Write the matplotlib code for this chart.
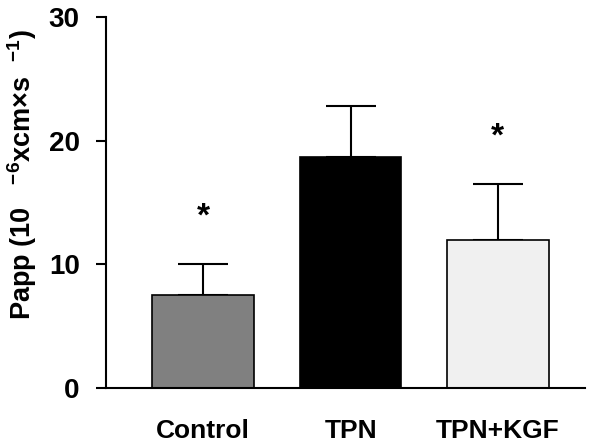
import matplotlib
matplotlib.use('Agg')
import matplotlib.pyplot as plt
import numpy as np

plt.rcParams['font.family'] = ['Liberation Sans', 'DejaVu Sans']
plt.rcParams['font.weight'] = 'bold'
plt.rcParams['mathtext.fontset'] = 'custom'
plt.rcParams['mathtext.rm'] = 'Liberation Sans:bold'
plt.rcParams['mathtext.it'] = 'Liberation Sans:bold'
plt.rcParams['mathtext.bf'] = 'Liberation Sans:bold'

# values
groups = ['Control', 'TPN', 'TPN+KGF']
means = [7.5, 18.7, 12.0]
errors = [2.5, 4.1, 4.5]
colors = ['#808080', '#000000', '#f0f0f0']
stars = ['*', '', '*']
star_y = [13.8, None, 20.3]


def main():
    fig = plt.figure(figsize=(6, 4.48), dpi=100)
    ax = fig.add_axes([0.1767, 0.134, 0.798, 0.828])

    x = np.arange(len(groups))
    ax.bar(x, means, width=0.69, color=colors, edgecolor='black',
           linewidth=1.2, zorder=2)
    ax.errorbar(x, means, yerr=[np.zeros(len(errors)), errors], fmt='none',
                ecolor='black', elinewidth=1.5, capsize=18, capthick=1.5,
                zorder=1)

    for i, s in enumerate(stars):
        if s:
            ax.text(x[i], star_y[i], s, ha='center', va='center',
                    fontsize=24, fontweight='bold')

    ax.set_xlim(-0.66, 2.59)
    ax.set_ylim(0, 30)
    ax.set_yticks([0, 10, 20, 30])
    ax.set_xticks(x)
    ax.set_xticklabels(groups, fontsize=19, fontweight='bold')
    ax.tick_params(axis='y', labelsize=20, length=7, width=1.5, pad=12)
    ax.tick_params(axis='x', length=0, pad=22)

    for side in ['top', 'right']:
        ax.spines[side].set_visible(False)
    for side in ['left', 'bottom']:
        ax.spines[side].set_linewidth(1.5)

    ax.set_ylabel(r'Papp (10   $^{-6}$xcm×s  $^{-1}$)', fontsize=19.5,
                  fontweight='bold')
    ax.yaxis.set_label_coords(-0.14, 0.575)

    fig.savefig('out.png', dpi=100)


main()
